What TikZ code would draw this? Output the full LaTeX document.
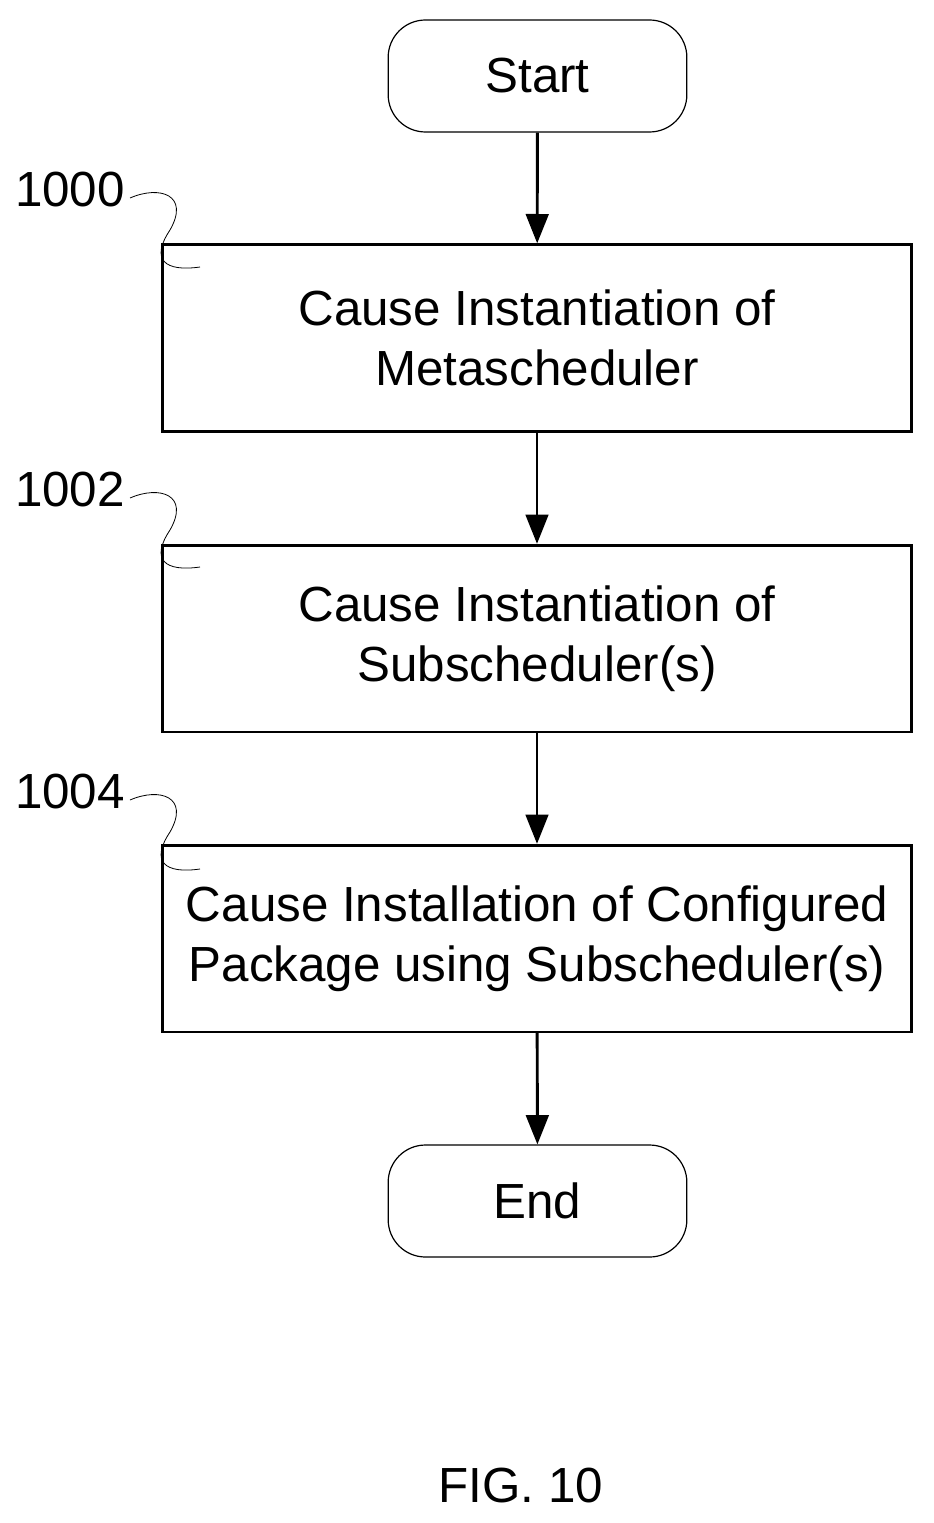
\documentclass[tikz,border=0pt]{standalone}
\usepackage{fontspec}
\setmainfont{Liberation Sans}
\usetikzlibrary{arrows.meta}
\begin{document}
\begin{tikzpicture}[x=0.75pt,y=-0.75pt,
  txt/.style={font=\fontsize{37}{45}\selectfont,align=center},
  term/.style={draw,line width=0.9pt,rounded corners=28pt,minimum width=224pt,minimum height=84pt,txt},
  box/.style={draw,line width=2pt,minimum width=562pt,minimum height=140pt,txt},
  arr/.style={line width=2.2pt,-{Triangle[length=22pt,width=17pt]}},
  sq/.style={line width=0.6pt}]
\useasboundingbox (0,0) rectangle (934,1523);
\node[term] (s) at (537.5,76) {Start};
\node[box] (b1) at (537,338) {Cause Instantiation of\\Metascheduler};
\node[box] (b2) at (537,638.5) {Cause Instantiation of\\Subscheduler(s)};
\node[box] (b3) at (537,938.5) {Cause Installation of Configured\\Package using Subscheduler(s)};
\node[term] (e) at (537.5,1201) {End};
\draw[arr] (s) -- (b1);
\draw[arr] (b1) -- (b2);
\draw[arr] (b2) -- (b3);
\draw[arr] (b3) -- (e);
\foreach \n/\y in {1000/190,1002/490,1004/792}{
  \node[txt,anchor=center] (l\n) at (70,\y) {\n};
  \coordinate (a\n) at (130,\y+8);
  \coordinate (c\n) at (200,\y+77);
  \draw[sq] (a\n) .. controls (160,\y-5) and (190,\y+5) .. (170,\y+40)
     .. controls (150,\y+70) and (165,\y+82) .. (c\n);
}
\node[txt] (fig) at (521,1485) {FIG. 10};
\end{tikzpicture}
\end{document}
